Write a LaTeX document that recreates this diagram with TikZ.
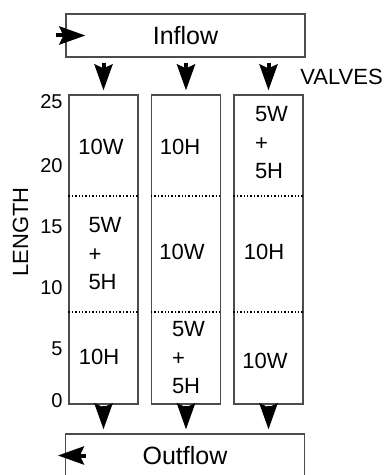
\documentclass[tikz,border=0pt]{standalone}
\usepackage{fontspec}
\setmainfont{Liberation Sans}
\usetikzlibrary{arrows.meta}

\begin{document}
\begin{tikzpicture}[x=0.5pt,y=-0.5pt,
    flowbox/.style={draw=black!70,line width=0.6pt,minimum width=119.5pt,minimum height=21.5pt,inner sep=0pt,font=\fontsize{12.5}{15}\selectfont},
    column/.style={draw=black!70,line width=0.6pt,minimum width=34.5pt,minimum height=154.5pt,inner sep=0pt},
    seg/.style={font=\fontsize{11}{14.25}\selectfont,align=left,inner sep=0pt},
    tick/.style={anchor=east,font=\fontsize{10}{12}\selectfont,inner sep=0pt},
    valve/.style={-{Stealth[length=13pt,width=9pt,inset=2pt]},line width=2pt},
    divider/.style={densely dotted,line width=0.7pt}]
    \useasboundingbox (0,0) rectangle (386,475);
    % inflow and outflow manifolds
    \node[flowbox] (inflow) at (185.5,35.5) {Inflow};
    \node[flowbox] (outflow) at (185,455.5) {Outflow};
    \draw[valve] ([xshift=-4.5pt]inflow.west) -- ([xshift=10pt]inflow.west);
    \draw[valve] ([xshift=10.5pt]outflow.west) -- ([xshift=-3.5pt]outflow.west);
    % the three columns
    \foreach \name/\cx in {colA/103.5,colB/186,colC/268.5}{
        \node[column] (\name) at (\cx,249.5) {};
        \draw[divider] (\name.west |- 0,196) -- (\name.east |- 0,196);
        \draw[divider] (\name.west |- 0,312) -- (\name.east |- 0,312);
        \draw[valve,shorten <=2.5pt,shorten >=2pt] (\name.north |- inflow.south) -- (\name.north);
        \draw[valve,shorten <=0.5pt,shorten >=2pt] (\name.south) -- (\name.south |- outflow.north);
    }
    \node[anchor=west,inner sep=0pt,font=\fontsize{11}{13}\selectfont] (valves) at (300,77) {VALVES};
    % bed contents
    \node[seg] (aTop) at (101,147) {10W};
    \node[seg] (aMid) at (105,254) {5W\\+\\5H};
    \node[seg] (aBot) at (99,357) {10H};
    \node[seg] (bTop) at (180,147) {10H};
    \node[seg] (bMid) at (182,252) {10W};
    \node[seg] (bBot) at (188.5,358) {5W\\+\\5H};
    \node[seg] (cTop) at (271.5,143) {5W\\+\\5H};
    \node[seg] (cMid) at (264,252) {10H};
    \node[seg] (cBot) at (265,361) {10W};
    % length axis
    \foreach \v/\py in {25/102,20/166,15/227,10/288,5/349,0/401}
        \node[tick] (t\v) at (63,\py) {\v};
    \node[rotate=90,inner sep=0pt,font=\fontsize{11}{13}\selectfont] (lengthlabel) at (20.5,232) {LENGTH};
\end{tikzpicture}
\end{document}
